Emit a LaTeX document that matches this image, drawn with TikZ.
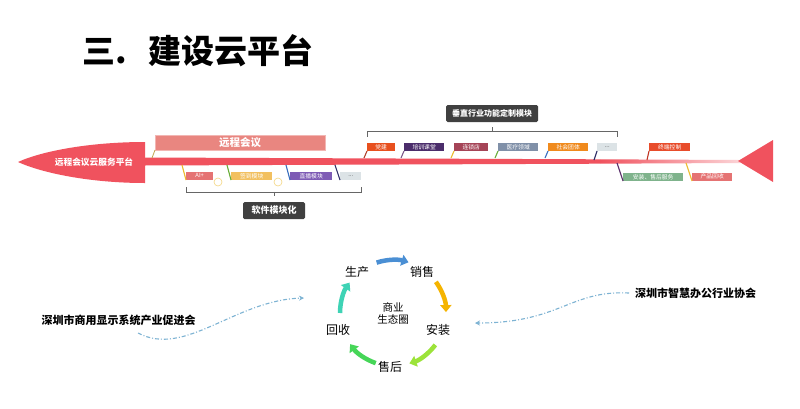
\documentclass[tikz,border=0pt]{standalone}
\usepackage{fontspec}
\setmainfont{Noto Sans CJK SC}
\usetikzlibrary{arrows.meta,positioning}

\definecolor{arrowred}{HTML}{F0525E}
\definecolor{darkbox}{HTML}{404040}
\definecolor{linkblue}{HTML}{7DB3D3}
\definecolor{lyellow}{HTML}{EDBB2E}
\definecolor{lgreen}{HTML}{6AAE3A}
\definecolor{lblue}{HTML}{3B6FBF}
\definecolor{lnavy}{HTML}{2B2B66}
\definecolor{lpurple}{HTML}{5A2D6A}
\definecolor{lred}{HTML}{B0402A}
\definecolor{salmon}{HTML}{E98680}

\begin{document}
\begin{tikzpicture}[x=1pt,y=-1pt,
      tag/.style={anchor=south west, inner sep=0pt, minimum height=8pt, text=white,
        font=\fontsize{5.8}{6}\selectfont},
      headbox/.style={fill=darkbox, text=white, rounded corners=1.5pt, inner sep=0pt,
        minimum height=17pt, font=\bfseries\fontsize{8}{9}\selectfont},
      leader/.style={line width=1.1pt},
      bracket/.style={draw=gray!80!black, line width=0.8pt},
      cyc/.style={font=\fontsize{12}{13}\selectfont},
      cycarrow/.style={line width=4.5pt, -{Triangle[length=7pt,width=11pt]}},
      link/.style={draw=linkblue, line width=1.1pt, dash pattern=on 4pt off 2pt on 1pt off 2pt,
        -{Stealth[length=5pt,width=5pt]}},
      assoc/.style={font=\bfseries\fontsize{11}{12}\selectfont, inner sep=2pt},
    ]
      \useasboundingbox[fill=white] (0,0) rectangle (800,408);

      % title
      \node[anchor=west, inner sep=0pt, font=\bfseries\fontsize{33}{36}\selectfont] (title) at (82,51) {三.\hspace{22pt}建设云平台};

      % main arrow
      \fill[arrowred] (145,142) -- (145,183) .. controls (90,183) and (42,173) .. (18,162)
        .. controls (42,151) and (90,142) .. (145,142) -- cycle;
      \fill[arrowred] (144,157.5) -- (600,159.3) -- (600,163.7) -- (144,165.5) -- cycle;
      \shade[left color=arrowred, right color=arrowred!25] (600,159.3) -- (740,160) -- (740,163) -- (600,163.7) -- cycle;
      \fill[arrowred] (738,161) -- (773,140) -- (773,182) -- cycle;
      \node[text=white, font=\bfseries\fontsize{8.7}{9}\selectfont] (platform) at (94,162) {远程会议云服务平台};

      \node[anchor=south west, fill=salmon, draw=salmon!60, text=white, inner sep=0pt, minimum width=170pt,
        minimum height=15pt, font=\bfseries\fontsize{10.5}{11}\selectfont] (remote) at (155,150) {远程会议};
      \draw[leader, draw=lyellow!60!gray, line width=0.8pt] (remote.south west) -- ++(-3,8);

      % vertical industry modules
      \node[tag, fill={rgb,255:red,232;green,80;blue,30}, minimum width=28pt] (dangjian) at (367,151) {党建};
      \node[tag, fill={rgb,255:red,75;green,45;blue,107}, minimum width=40pt] (peixun) at (404,151) {培训课堂};
      \node[tag, fill={rgb,255:red,165;green,68;blue,87}, minimum width=34pt] (liansuo) at (454,151) {连锁店};
      \node[tag, fill={rgb,255:red,128;green,144;blue,168}, minimum width=40pt] (yiliao) at (498,151) {医疗领域};
      \node[tag, fill={rgb,255:red,240;green,138;blue,29}, minimum width=40pt] (shetuan) at (548,151) {社会团体};
      \node[tag, fill={rgb,255:red,220;green,227;blue,230}, text=darkbox, minimum width=20pt] (moretop) at (597,151) {...};
      \node[tag, fill={rgb,255:red,232;green,76;blue,43}, minimum width=41pt] (zhongduan) at (649,151) {终端控制};

      \draw[leader, draw=lred] (dangjian.south west) -- ++(-3,7);
      \draw[leader, draw=lpurple!80] (peixun.south west) -- ++(-3,7);
      \draw[leader, draw=lyellow] (liansuo.south west) -- ++(-3,7);
      \draw[leader, draw=lgreen] (yiliao.south west) -- ++(-3,7);
      \draw[leader, draw=lblue] (shetuan.south west) -- ++(-3,7);
      \draw[leader, draw=lnavy] (moretop.south west) -- ++(-3,9);
      \draw[leader, draw=lred!80!red] (zhongduan.south west) -- ++(-2,9);

      \node[headbox, minimum width=92pt] (vertical) at (492,113.5) {垂直行业功能定制模块};
      \draw[bracket] ([yshift=6pt]dangjian.north west) -- ++(0,-5)
        -- ([yshift=11pt]moretop.north east) -- ++(0,5);
      \draw[bracket] (vertical.south) ++(0,5) -- ++(0,5);

      % software modules
      \node[tag, fill={rgb,255:red,229;green,115;blue,115}, minimum width=27pt] (aiplus) at (186,180) {AI+};
      \node[tag, fill={rgb,255:red,242;green,192;blue,96}, minimum width=41pt] (qiandao) at (231,180) {签到模块};
      \node[tag, fill={rgb,255:red,126;green,91;blue,181}, minimum width=42pt] (zhibo) at (290,180) {直播模块};
      \node[tag, fill={rgb,255:red,220;green,227;blue,230}, text=darkbox, minimum width=21pt] (morebot) at (340,180) {...};
      \node[circle, draw=lyellow!60, line width=0.6pt, inner sep=0pt, minimum size=8pt] (aidot) at (218,182) {};
      \node[circle, draw=lyellow!60, line width=0.6pt, inner sep=0pt, minimum size=8pt] (qddot) at (278,182) {};

      \draw[leader, draw=lyellow] (aiplus.south west) -- ++(-4,-15);
      \draw[leader, draw=lgreen] (qiandao.south west) -- ++(-4,-15);
      \draw[leader, draw=lblue] (zhibo.south west) -- ++(-4,-15);
      \draw[leader, draw=lnavy] (morebot.south west) -- ++(-5,-15);

      \node[headbox, minimum width=62pt, font=\bfseries\fontsize{9}{10}\selectfont] (software) at (274,210.5) {软件模块化};
      \draw[bracket] ([yshift=-7pt]aiplus.south west) -- ++(0,5)
        -- ([yshift=-12pt]morebot.south east) -- ++(0,-5);
      \draw[bracket] (software.north) ++(0,-10) -- ++(0,4);

      % service modules at the tail
      \node[tag, fill={rgb,255:red,127;green,179;blue,140}, minimum width=60pt] (anzhuang) at (623,181) {安装、售后服务};
      \node[tag, fill={rgb,255:red,229;green,115;blue,115}, minimum width=40pt] (huishou) at (692,181) {产品回收};
      \draw[leader, draw=lpurple] (anzhuang.south west) -- ++(-6,-18);
      \draw[leader, draw=lyellow] (huishou.south west) -- ++(-6,-18);

      % business ecosystem cycle
      \node[align=center, font=\fontsize{10.5}{12}\selectfont, inner sep=0pt] (eco) at (393,313) {商业\\生态圈};
      \node[cyc] (shengchan) at (357,272) {生产};
      \node[cyc] (xiaoshou) at (422,272) {销售};
      \node[cyc] (anz) at (438,330) {安装};
      \node[cyc] (shouhou) at (390,367) {售后};
      \node[cyc] (huis) at (338,330) {回收};

      \draw[cycarrow, draw={rgb,255:red,74;green,143;blue,212}]
        ([shift={(108:53pt)}]eco) arc[start angle=108, end angle=73, radius=53pt];
      \draw[cycarrow, draw={rgb,255:red,245;green,180;blue,0}]
        ([shift={(36:53pt)}]eco) arc[start angle=36, end angle=1, radius=53pt];
      \draw[cycarrow, draw={rgb,255:red,156;green,227;blue,58}]
        ([shift={(-37:53pt)}]eco) arc[start angle=-37, end angle=-72, radius=53pt];
      \draw[cycarrow, draw={rgb,255:red,70;green,214;blue,88}]
        ([shift={(-109:53pt)}]eco) arc[start angle=-109, end angle=-144, radius=53pt];
      \draw[cycarrow, draw={rgb,255:red,62;green,211;blue,181}]
        ([shift={(180:53pt)}]eco) arc[start angle=180, end angle=145, radius=53pt];

      % associations
      \node[assoc] (leftassoc) at (118.5,320) {深圳市商用显示系统产业促进会};
      \node[assoc, anchor=west] (rightassoc) at (633,293) {深圳市智慧办公行业协会};
      \coordinate (leftstart) at (138,333);
      \coordinate (lefttip) at (304,298);
      \coordinate (righttip) at (475,323);
      \draw[link] (leftstart) .. controls (185,358) and (235,300) .. (lefttip);
      \draw[link] ([xshift=-4pt]rightassoc.west) .. controls (570,290) and (560,323) .. (righttip);
    \end{tikzpicture}
\end{document}
